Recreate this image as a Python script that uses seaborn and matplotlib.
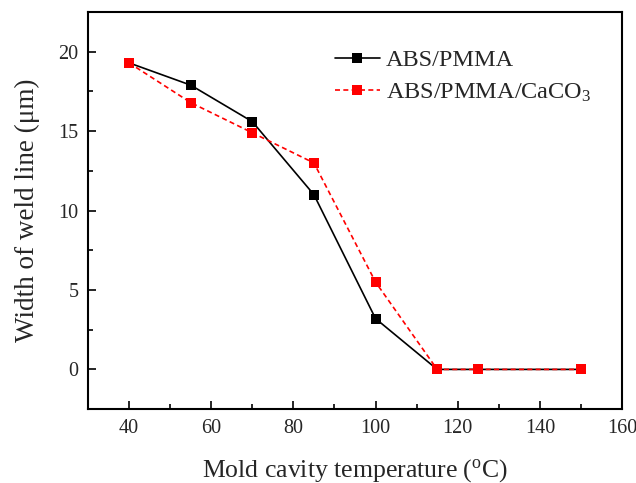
import numpy as np
import pandas as pd
import matplotlib
matplotlib.use("Agg")
import matplotlib.pyplot as plt
import seaborn as sns
from matplotlib.ticker import MultipleLocator

temperature = [40, 55, 70, 85, 100, 115, 125, 150]
abs_pmma = [19.3, 17.9, 15.6, 11.0, 3.2, 0, 0, 0]
abs_pmma_caco3 = [19.3, 16.8, 14.9, 13.0, 5.5, 0, 0, 0]
series_names = ["ABS/PMMA", "ABS/PMMA/CaCO$_3$"]

sns.set_style("white")
plt.rcParams["font.family"] = ["Liberation Serif", "DejaVu Serif"]
plt.rcParams["mathtext.fontset"] = "custom"
plt.rcParams["mathtext.rm"] = "Liberation Serif"
plt.rcParams["mathtext.it"] = "Liberation Serif:italic"

df = pd.DataFrame({
    "T": temperature * 2,
    "W": abs_pmma + abs_pmma_caco3,
    "series": [series_names[0]] * len(temperature) + [series_names[1]] * len(temperature),
})

fig = plt.figure(figsize=(6.36, 4.83), dpi=100)
ax = fig.add_axes([0.1384, 0.153, 0.978 - 0.1384, 0.975 - 0.153])

sns.lineplot(data=df[df.series == series_names[0]], x="T", y="W", ax=ax,
             color="black", lw=1.2, marker="s", markersize=7.5, markeredgewidth=0,
             label=series_names[0])
sns.lineplot(data=df[df.series == series_names[1]], x="T", y="W", ax=ax,
             color="#ff0000", lw=1.2, linestyle=(0, (3, 2)), marker="s", markersize=7.5,
             markeredgewidth=0, label=series_names[1])

ax.set_xlim(30, 160)
ax.set_ylim(-2.5, 22.5)
ax.xaxis.set_major_locator(MultipleLocator(20))
ax.xaxis.set_minor_locator(MultipleLocator(10))
ax.yaxis.set_major_locator(MultipleLocator(5))
ax.yaxis.set_minor_locator(MultipleLocator(2.5))
ax.tick_params(which="both", direction="in", top=False, right=False, bottom=True, left=True,
               color="black", width=1.2)
ax.tick_params(which="major", length=6, labelsize=14.5, pad=7)
ax.tick_params(which="minor", length=3.5)
for s in ax.spines.values():
    s.set_color("black")
    s.set_linewidth(1.5)

ax.set_xlabel("Mold cavity temperature ($^{\\rm o}$C)", fontsize=18.5, labelpad=14)
ax.set_ylabel("Width of weld line (μm)", fontsize=19.5, labelpad=13)

leg = ax.legend(loc="upper left", bbox_to_anchor=(0.4625, 0.907), frameon=False,
                borderpad=0, borderaxespad=0,
                fontsize=17.5, handlelength=1.85, handletextpad=0.25, labelspacing=0.42)

fig.savefig("out.png", dpi=100)
